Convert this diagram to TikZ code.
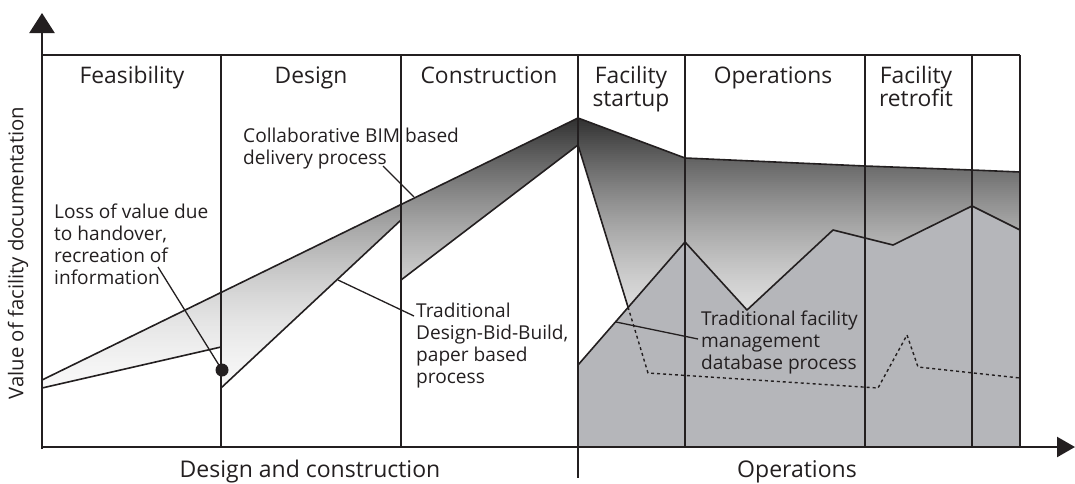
\documentclass[tikz,border=0pt]{standalone}
\usepackage{fontspec}
\setmainfont{Open Sans}
\usetikzlibrary{arrows.meta}
\definecolor{ink}{RGB}{35,31,32}
\definecolor{opsgray}{RGB}{181,182,186}
\begin{document}
\begin{tikzpicture}[x=1pt,y=-1pt,
  frame/.style={draw=ink,line width=2pt},
  curve/.style={draw=ink,line width=1.6pt,line join=round},
  leader/.style={draw=ink,line width=1.3pt},
  phase/.style={text=ink,font=\fontsize{22.8}{23}\selectfont,align=center,anchor=base,inner sep=0pt},
  note/.style={text=ink,font=\fontsize{19.1}{22}\selectfont,align=left,anchor=base west,inner sep=0pt},
  bottomlabel/.style={text=ink,font=\fontsize{23}{24}\selectfont,anchor=base,inner sep=0pt}]
\useasboundingbox (0,0) rectangle (1075,483);

% key points of the curves
\coordinate (a0) at (42,380);   % collaborative BIM, start
\coordinate (peak) at (578,118);
\coordinate (t0) at (42,388);   % traditional, feasibility
\coordinate (t1) at (221,347);
\coordinate (t2) at (221,388);  % after handover
\coordinate (t3) at (401,220);
\coordinate (t4) at (401,280);
\coordinate (t5) at (578,145);
\coordinate (u1) at (685,158);
\coordinate (u2) at (865,166);
\coordinate (u3) at (972,170);
\coordinate (u4) at (1020,172);
\coordinate (f0) at (628,307);  % facility database crossing
\coordinate (z0) at (578,365);
\coordinate (z1) at (685,242);
\coordinate (z2) at (747,310);
\coordinate (z3) at (833,230);
\coordinate (z4) at (893,245);
\coordinate (z5) at (972,206);
\coordinate (z6) at (1020,230);
\coordinate (d1) at (648,373);
\coordinate (d2) at (878,388);
\coordinate (d3) at (907,335);
\coordinate (d4) at (918,367);
\coordinate (d5) at (1020,378);

% graded value bands: dark at the peak, fading downwards
\begin{scope}
  \clip (a0) -- (peak) -- (t5) -- (t4) -- (t3) -- (t2) -- (t1) -- (t0) -- cycle
        (peak) -- (u1) -- (u2) -- (u3) -- (u4) -- (z6) -- (z5) -- (z4) -- (z3) -- (z2) -- (z1) -- (f0) -- (t5) -- cycle;
  \foreach \i in {0,...,140} {
    \pgfmathsetmacro{\yy}{116+2*\i}
    \pgfmathsetmacro{\tt}{(\yy-118)/100}
    \pgfmathsetmacro{\p}{max(2,81-52.16*\tt+8.58*\tt*\tt)}
    \fill[black!\p] (42,\yy) rectangle (1020,\yy+2.6);
  }
\end{scope}

% operations area
\fill[opsgray] (578,447) -- (z0) -- (z1) -- (z2) -- (z3) -- (z4) -- (z5) -- (z6) -- (1020,447) -- cycle;

% curve outlines
\draw[curve] (a0) -- (peak) -- (u1) -- (u2) -- (u3) -- (u4);
\draw[curve] (t0) -- (t1);
\draw[curve] (t2) -- (t3);
\draw[curve] (t4) -- (t5) -- (f0);
\draw[curve] (z0) -- (z1) -- (z2) -- (z3) -- (z4) -- (z5) -- (z6);
\draw[draw=ink,line width=1.4pt,dash pattern=on 3pt off 3pt] (f0) -- (d1) -- (d2) -- (d3) -- (d4) -- (d5);

% phase grid
\draw[frame] (42,55) -- (1020,55);
\foreach \x in {221,401,685,865,972,1020} \draw[frame] (\x,55) -- (\x,447);
\draw[frame] (578,55) -- (578,478);
\draw[draw=ink,line width=2.4pt,-{Triangle[length=20pt,width=25pt]}] (42,449) -- (42,13);
\draw[draw=ink,line width=2.4pt,-{Triangle[length=18pt,width=20pt]}] (41,447) -- (1075,447);

% phase headings
\node[phase] (feas) at (132,83) {Feasibility};
\node[phase] (des) at (311,83) {Design};
\node[phase] (cons) at (489,83) {Construction};
\node[phase] (start) at (631,106) {Facility\\startup};
\node[phase] (ops) at (773,83) {Operations};
\node[phase] (retro) at (916,106) {Facility\\retrofit};

% axis labels
\node[bottomlabel] (dc) at (310,477) {Design and construction};
\node[bottomlabel] (op) at (797,477) {Operations};
\node[text=ink,font=\fontsize{20.3}{22}\selectfont,rotate=90,inner sep=0pt] (val) at (18,253) {Value of facility documentation};

% annotations (anchored at the baseline of their last line)
\node[note] (bim) at (243,164) {Collaborative BIM based\\delivery process};
\node[note] (loss) at (54,284) {Loss of value due\\to handover,\\recreation of\\information};
\node[note] (dbb) at (416,383) {Traditional\\Design-Bid-Build,\\paper based\\process};
\node[note] (fm) at (701,369) {Traditional facility\\management\\database process};

\coordinate (bimtip) at (414,197);
\coordinate (losstip) at (222,370);
\coordinate (dbbtip) at (338,280);
\coordinate (fmtip) at (616,322);
\draw[leader] (383,166) -- (bimtip);
\draw[leader] (158,267) -- (losstip);
\draw[leader] (dbbtip) -- (414,316);
\draw[leader] (fmtip) -- (698,339);
\fill[ink] (losstip) circle (6.5pt);
\end{tikzpicture}
\end{document}
